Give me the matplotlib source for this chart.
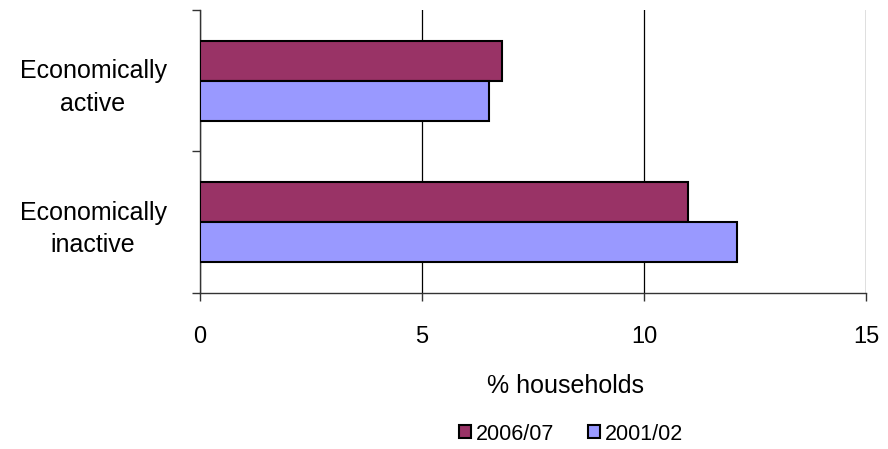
import numpy as np
import matplotlib.pyplot as plt

plt.rcParams['font.family'] = ['Liberation Sans', 'DejaVu Sans']

# groups, bottom to top
groups = ["Economically\ninactive", "Economically\nactive"]
years = ["2006/07", "2001/02"]
pct_2006 = [11.0, 6.8]
pct_2001 = [12.1, 6.5]
colors = ["#993366", "#9999FF"]

fig = plt.figure(figsize=(8.88, 4.49), dpi=100)
ax = fig.add_axes([200 / 888, 1 - 293 / 449, 666 / 888, 283 / 449])

y = np.arange(len(groups))
h = 0.284
ax.barh(y + h / 2, pct_2006, height=h, color=colors[0], edgecolor="black",
        linewidth=1.5, label=years[0], zorder=3)
ax.barh(y - h / 2, pct_2001, height=h, color=colors[1], edgecolor="black",
        linewidth=1.5, label=years[1], zorder=3)

ax.set_xlim(0, 15)
ax.set_ylim(-0.5, len(groups) - 0.5)
ax.set_xticks([0, 5, 10, 15])
ax.set_yticks(y)
ax.set_yticklabels(groups, multialignment="center", linespacing=1.45)
ax.set_yticks(np.arange(-0.5, len(groups)), minor=True)

ax.tick_params(axis="y", which="major", length=0, pad=0, labelsize=18)
ax.tick_params(axis="y", which="minor", length=6, width=1, color="#333333")
ax.tick_params(axis="x", length=6, width=1, pad=18, labelsize=17, color="#333333")
for lbl in ax.get_yticklabels():
    lbl.set_horizontalalignment("center")
    lbl.set_x(-107 / 666)

ax.grid(axis="x", color="black", linewidth=0.9, zorder=0)
for side in ["top", "right"]:
    ax.spines[side].set_visible(False)
for side in ["left", "bottom"]:
    ax.spines[side].set_color("#333333")
    ax.spines[side].set_linewidth(1)

ax.set_xlabel("% households", fontsize=18)
ax.xaxis.set_label_coords(0.549, -0.285)

leg = fig.legend(loc="center", bbox_to_anchor=(571 / 888, 1 - 434 / 449),
                 ncol=2, frameon=False, fontsize=15.5, handlelength=0.55,
                 handleheight=0.55, handletextpad=0.2, columnspacing=1.6)
for patch in leg.get_patches():
    patch.set_linewidth(1.5)

fig.savefig("out.png", dpi=100)
